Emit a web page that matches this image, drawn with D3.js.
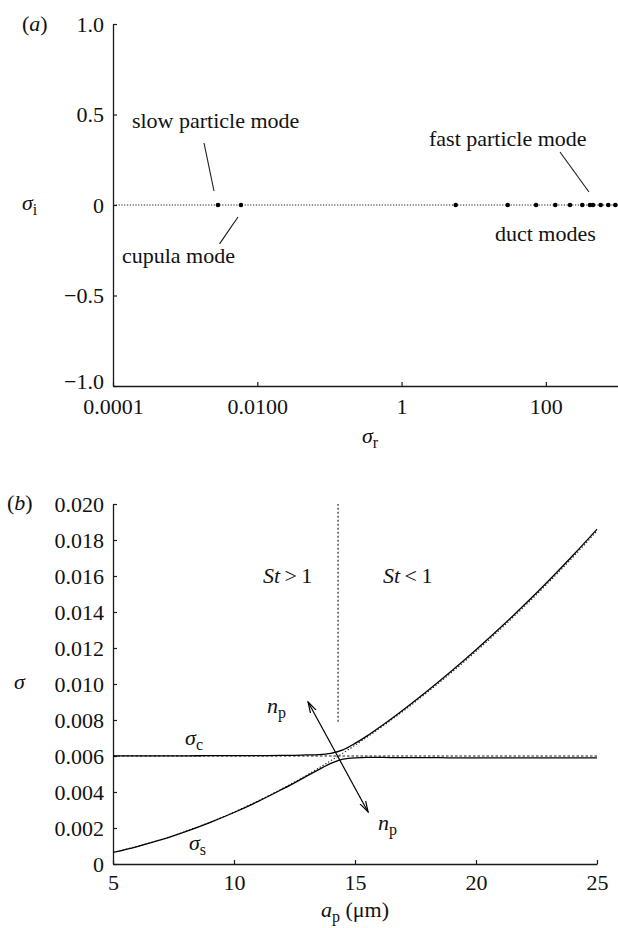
<!DOCTYPE html>
<html>
<head>
<meta charset="utf-8">
<script src="https://cdn.jsdelivr.net/npm/d3@7"></script>
<style>
  html, body { margin: 0; padding: 0; background: #fff; }
  svg { display: block; }
  text { font-family: "Liberation Serif", "Times New Roman", serif; fill: #111; }
</style>
</head>
<body>
<svg id="fig" width="618" height="928"></svg>
<script>
// ---------- panel (a): eigenvalues in the complex plane ----------
const modeSigmaR = [0.00285, 0.00594, 5.63, 29.6, 73.1, 135, 216, 320, 409, 451, 576, 734, 918];
const modeSigmaI = [0, 0, 0, 0, 0, 0, 0, 0, 0, 0, 0, 0, 0];
const aXTicks = [0.0001, 0.01, 1, 100];
const aXTickLabels = ["0.0001", "0.0100", "1", "100"];
const aYTicks = [1, 0.5, 0, -0.5, -1];
const aYTickLabels = ["1.0", "0.5", "0", "\u22120.5", "\u22121.0"];

// ---------- panel (b): growth rates versus particle radius ----------
const aP = [5, 6, 7, 8, 9, 10, 11, 12, 12.5, 13, 13.5, 14, 14.5, 15, 15.5, 16, 17, 18, 19, 20, 21, 22, 23, 24, 25];
const sigmaCoupledUpper = [0.00601, 0.00601, 0.00601, 0.00601, 0.00602, 0.00602, 0.00602, 0.00603, 0.00604, 0.00606, 0.00608, 0.00615, 0.00634, 0.00670, 0.00712, 0.00758, 0.00857, 0.00962, 0.01073, 0.01190, 0.01312, 0.01440, 0.01574, 0.01714, 0.01860];
const sigmaCoupledLower = [0.00064, 0.00097, 0.00135, 0.00180, 0.00230, 0.00286, 0.00348, 0.00416, 0.00451, 0.00488, 0.00524, 0.00559, 0.00582, 0.00590, 0.00592, 0.00592, 0.00591, 0.00591, 0.00590, 0.00590, 0.00590, 0.00590, 0.00590, 0.00590, 0.00590];
const sigmaParticleAlone = [0.00065, 0.00098, 0.00136, 0.00181, 0.00232, 0.00288, 0.00351, 0.00419, 0.00455, 0.00493, 0.00533, 0.00574, 0.00616, 0.00660, 0.00705, 0.00752, 0.00850, 0.00955, 0.01065, 0.01181, 0.01303, 0.01431, 0.01564, 0.01704, 0.01850];
const sigmaCupulaAlone = 0.0060;
const stokesUnityRadius = 14.3;
const stokesLineRange = [0.0079, 0.020];
const npArrow = [[13.06, 0.0090], [15.54, 0.00289]];
const bXTicks = [5, 10, 15, 20, 25];
const bYTicks = [0, 0.002, 0.004, 0.006, 0.008, 0.010, 0.012, 0.014, 0.016, 0.018, 0.020];
const bYTickLabels = ["0", "0.002", "0.004", "0.006", "0.008", "0.010", "0.012", "0.014", "0.016", "0.018", "0.020"];

const FS = 22;
const INK = "#1a1a1a";
const svg = d3.select("#fig");

function styleAxis(g) {
  g.selectAll("path.domain").attr("stroke", INK).attr("stroke-width", 1.3);
  g.selectAll(".tick line").attr("stroke", INK).attr("stroke-width", 1.2);
  g.selectAll(".tick text").attr("font-size", FS).attr("fill", INK)
    .style("font-family", '"Liberation Serif", "Times New Roman", serif');
}

// Label with italic main symbol and roman subscript
function symLabel(sel, x, y, main, sub, anchor) {
  const t = sel.append("text").attr("x", x).attr("y", y).attr("font-size", FS)
    .attr("text-anchor", anchor || "start");
  t.append("tspan").attr("font-style", "italic").text(main);
  if (sub) t.append("tspan").attr("dy", 5).attr("font-size", 16).text(sub);
  return t;
}

// ================= panel (a) =================
const xa = d3.scaleLog().domain([1e-4, 1e3]).range([113, 618]);
const ya = d3.scaleLinear().domain([-1, 1]).range([386, 24]);
const ga = svg.append("g");

ga.append("g").attr("transform", `translate(0,${ya(-1)})`)
  .call(d3.axisBottom(xa).tickValues(aXTicks).tickFormat((d, i) => aXTickLabels[i])
    .tickSizeInner(-4).tickSizeOuter(0).tickPadding(12))
  .call(styleAxis);
ga.append("g").attr("transform", `translate(${xa(1e-4)},0)`)
  .call(d3.axisLeft(ya).tickValues(aYTicks).tickFormat((d, i) => aYTickLabels[i])
    .tickSizeInner(-4).tickSizeOuter(0).tickPadding(9))
  .call(styleAxis)
  .call(g => g.selectAll(".tick").filter(d => d === -1).select("text").attr("dy", "0.1em"));

// zero-growth line
ga.append("line")
  .attr("x1", xa(1e-4)).attr("x2", xa(1e3)).attr("y1", ya(0)).attr("y2", ya(0))
  .attr("stroke", INK).attr("stroke-width", 1).attr("stroke-dasharray", "1.2,1.6");

ga.selectAll("circle.mode").data(modeSigmaR).enter().append("circle")
  .attr("class", "mode")
  .attr("cx", d => xa(d)).attr("cy", (d, i) => ya(modeSigmaI[i])).attr("r", 2.3)
  .attr("fill", "#000");

// leader lines for mode annotations
const leaders = [
  [[0.001826, 0.3425], [0.002512, 0.0773]],
  [[0.0054, -0.0663], [0.0030, -0.215]],
  [[157, 0.2928], [396, 0.0718]]
];
ga.selectAll("line.leader").data(leaders).enter().append("line")
  .attr("class", "leader")
  .attr("x1", d => xa(d[0][0])).attr("y1", d => ya(d[0][1]))
  .attr("x2", d => xa(d[1][0])).attr("y2", d => ya(d[1][1]))
  .attr("stroke", INK).attr("stroke-width", 1.1);

const notes = [
  ["slow particle mode", 1.83e-4, 0.425],
  ["cupula mode", 1.33e-4, -0.32],
  ["fast particle mode", 2.40, 0.326],
  ["duct modes", 19.7, -0.199]
];
ga.selectAll("text.note").data(notes).enter().append("text")
  .attr("class", "note")
  .attr("x", d => xa(d[1])).attr("y", d => ya(d[2]))
  .attr("font-size", FS).text(d => d[0]);

ga.append("text").attr("x", 22).attr("y", 31).attr("font-size", FS)
  .html('(<tspan font-style="italic">a</tspan>)');
symLabel(ga, 22, 210, "\u03c3", "i");
symLabel(ga, 362, 443, "\u03c3", "r");

// ================= panel (b) =================
const xb = d3.scaleLinear().domain([5, 25]).range([113, 597]);
const yb = d3.scaleLinear().domain([0, 0.020]).range([864, 504]);
const gb = svg.append("g");

gb.append("g").attr("transform", `translate(0,${yb(0)})`)
  .call(d3.axisBottom(xb).tickValues(bXTicks).tickFormat(d3.format("d"))
    .tickSizeInner(-4).tickSizeOuter(0).tickPadding(10))
  .call(styleAxis);
gb.append("g").attr("transform", `translate(${xb(5)},0)`)
  .call(d3.axisLeft(yb).tickValues(bYTicks).tickFormat((d, i) => bYTickLabels[i])
    .tickSizeInner(-4).tickSizeOuter(0).tickPadding(9))
  .call(styleAxis);

const line = d3.line().x((d, i) => xb(aP[i])).y(d => yb(d)).curve(d3.curveMonotoneX);

// uncoupled modes (dotted)
gb.append("line")
  .attr("x1", xb(5)).attr("x2", xb(25)).attr("y1", yb(sigmaCupulaAlone)).attr("y2", yb(sigmaCupulaAlone))
  .attr("stroke", INK).attr("stroke-width", 1.1).attr("stroke-dasharray", "2.5,2");
gb.append("path").datum(sigmaParticleAlone).attr("d", line)
  .attr("fill", "none").attr("stroke", INK).attr("stroke-width", 1.1).attr("stroke-dasharray", "1.3,2");

// coupled modes (solid)
[sigmaCoupledUpper, sigmaCoupledLower].forEach(s => {
  gb.append("path").datum(s).attr("d", line)
    .attr("fill", "none").attr("stroke", "#000").attr("stroke-width", 1.3);
});

// St = 1 boundary
gb.append("line")
  .attr("x1", xb(stokesUnityRadius)).attr("x2", xb(stokesUnityRadius))
  .attr("y1", yb(stokesLineRange[0])).attr("y2", yb(stokesLineRange[1]))
  .attr("stroke", INK).attr("stroke-width", 1.1).attr("stroke-dasharray", "2,2");

// double-headed arrow for increasing n_p
const defs = svg.append("defs");
defs.append("marker").attr("id", "head").attr("viewBox", "0 0 12 8")
  .attr("refX", 11).attr("refY", 4).attr("markerWidth", 12).attr("markerHeight", 8)
  .attr("markerUnits", "userSpaceOnUse").attr("orient", "auto-start-reverse")
  .append("path").attr("d", "M0,0.8 L11,4 L0,7.2").attr("fill", "none")
  .attr("stroke", "#000").attr("stroke-width", 1.2);
gb.append("line")
  .attr("x1", xb(npArrow[0][0])).attr("y1", yb(npArrow[0][1]))
  .attr("x2", xb(npArrow[1][0])).attr("y2", yb(npArrow[1][1]))
  .attr("stroke", "#000").attr("stroke-width", 1.2)
  .attr("marker-start", "url(#head)").attr("marker-end", "url(#head)");

// region and curve labels
const stLabels = [["St", ">", 11.2], ["St", "<", 16.16]];
stLabels.forEach(d => {
  const t = gb.append("text").attr("x", xb(d[2])).attr("y", yb(0.01561)).attr("font-size", FS);
  t.append("tspan").attr("font-style", "italic").text(d[0]);
  t.append("tspan").text("\u2009" + d[1] + "\u20091");
});
symLabel(gb, xb(7.98), yb(0.00661), "\u03c3", "c");
symLabel(gb, xb(8.14), yb(0.00078), "\u03c3", "s");
symLabel(gb, xb(11.36), yb(0.00839), "n", "p");
symLabel(gb, xb(15.95), yb(0.00189), "n", "p");

gb.append("text").attr("x", 7).attr("y", 510).attr("font-size", FS)
  .html('(<tspan font-style="italic">b</tspan>)');
symLabel(gb, 14, 689, "\u03c3");
{
  const t = gb.append("text").attr("x", 355).attr("y", 917).attr("font-size", FS).attr("text-anchor", "middle");
  t.append("tspan").attr("font-style", "italic").text("a");
  t.append("tspan").attr("dy", 5).attr("font-size", 16).text("p");
  t.append("tspan").attr("dy", -5).text(" (\u03bcm)");
}
</script>
</body>
</html>
